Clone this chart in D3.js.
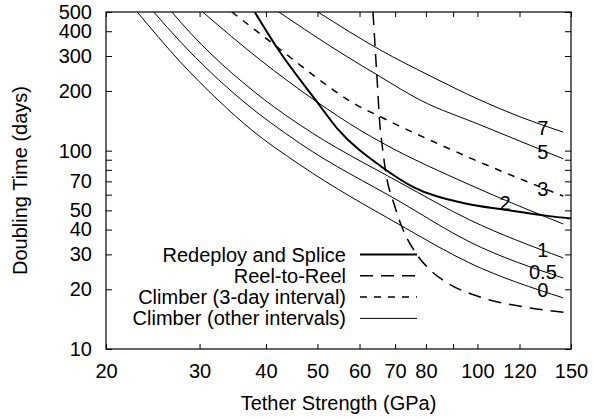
<!DOCTYPE html>
<html lang="en">
<head>
    <meta charset="UTF-8">
    <title>Doubling Time vs Tether Strength</title>
    <script src="https://cdn.jsdelivr.net/npm/d3@7.9.0/dist/d3.min.js"></script>
    <style>
        body {
            margin: 0;
            background: #fff;
            font-family: "Liberation Sans", Arial, Helvetica, sans-serif;
        }
        svg { display: block; }
        text { fill: #000; font-size: 20px; }
        .tick line { stroke: #000; stroke-width: 1px; }
    </style>
</head>
<body>
<svg id="chart" width="594" height="419"></svg>
<script>
    // --- data: [tether strength (GPa), doubling time (days)] ---
    const climber0  = [[22.9, 500], [27.6, 280], [32.5, 180], [37.6, 127], [46.3, 85], [71.5, 42.2], [96.8, 27.1], [145, 18.1]];
    const climber05 = [[24.6, 500], [27.6, 354], [36.0, 180], [46.3, 109], [71.5, 55.3], [96.8, 34.6], [145, 22.8]];
    const climber1  = [[26.6, 500], [27.6, 446], [39.8, 180], [46.3, 135], [71.5, 69], [96.8, 44.7], [145, 28.8]];
    const climber2  = [[30.4, 500], [39.0, 287], [49.9, 176], [60.1, 127], [66.4, 109], [96.8, 67.2], [145, 42.7]];
    const climber3  = [[34.5, 500], [42.0, 333], [49.0, 241], [58.3, 174], [66.4, 146], [96.8, 92], [145, 59]];
    const climber5  = [[42.3, 500], [52.8, 337], [65.6, 236], [78.0, 180], [101.1, 135], [145, 91]];
    const climber7  = [[50.1, 500], [65.6, 322], [81.5, 238], [101.1, 180], [120.3, 148], [145, 124]];
    const redeploy  = [[38.1, 500], [42.0, 329], [49.9, 176], [54.4, 130], [66.4, 82], [75.6, 65.7], [94.0, 54.5], [113.7, 50.2], [135.4, 46.9], [150, 45.5]];
    const reel      = [[63.6, 500], [64.7, 236], [65.6, 130], [66.1, 109], [67.6, 71.2], [69.3, 56.4], [72.1, 41.2], [77.0, 29.8], [81.5, 25.0], [87.9, 21.5], [101.1, 18.3], [125.8, 16.1], [150, 15.2]];

    // interval labels placed next to the climber curves
    const curveLabels = [["7", 132.8, 130], ["5", 132.8, 98.6], ["3", 132.8, 64.1], ["2", 112.7, 54.5],
                         ["1", 132.8, 31.6], ["0.5", 132.8, 24.5], ["0", 132.8, 19.8]];

    const xTicks = [20, 30, 40, 50, 60, 70, 80, 90, 100, 120, 150];
    const xLabels = [20, 30, 40, 50, 60, 70, 80, 100, 120, 150];
    const yTicks = [10, 20, 30, 40, 50, 60, 70, 80, 90, 100, 200, 300, 400, 500];
    const yLabels = [10, 20, 30, 40, 50, 70, 100, 200, 300, 400, 500];

    const legendNames = ["Redeploy and Splice", "Reel-to-Reel", "Climber (3-day interval)", "Climber (other intervals)"];

    // --- layout ---
    const m = {left: 106, right: 571, top: 12, bottom: 349};
    const svg = d3.select("#chart");

    const x = d3.scaleLog().domain([20, 150]).range([m.left, m.right]);
    const y = d3.scaleLog().domain([10, 500]).range([m.bottom, m.top]);

    const styles = {
        thin:   {w: 1, dash: null},
        thick:  {w: 2, dash: null},
        reel:   {w: 1.5, dash: "13,8"},
        dashed: {w: 1.5, dash: "7,7"}
    };

    svg.append("clipPath").attr("id", "plot-clip")
        .append("rect")
        .attr("x", m.left).attr("y", m.top)
        .attr("width", m.right - m.left).attr("height", m.bottom - m.top);

    // --- axes (ticks point inward on all four sides) ---
    const fmtX = d => xLabels.includes(d) ? d : "";
    const fmtY = d => yLabels.includes(d) ? d : "";

    svg.append("g")
        .attr("transform", `translate(0,${m.bottom})`)
        .call(d3.axisBottom(x).tickValues(xTicks).tickFormat(fmtX).tickSizeInner(-5).tickSizeOuter(0).tickPadding(15))
        .call(g => g.select(".domain").remove())
        .call(g => g.selectAll("text").style("font-size", "20px").style("font-family", "inherit"));

    svg.append("g")
        .attr("transform", `translate(0,${m.top})`)
        .call(d3.axisTop(x).tickValues(xTicks).tickFormat("").tickSizeInner(-5).tickSizeOuter(0))
        .call(g => g.select(".domain").remove());

    svg.append("g")
        .attr("transform", `translate(${m.left},0)`)
        .call(d3.axisLeft(y).tickValues(yTicks).tickFormat(fmtY).tickSizeInner(-6).tickSizeOuter(0).tickPadding(14))
        .call(g => g.select(".domain").remove())
        .call(g => g.selectAll("text").style("font-size", "20px").style("font-family", "inherit"));

    svg.append("g")
        .attr("transform", `translate(${m.right},0)`)
        .call(d3.axisRight(y).tickValues(yTicks).tickFormat("").tickSizeInner(-6).tickSizeOuter(0))
        .call(g => g.select(".domain").remove());

    // --- curves ---
    const line = d3.line()
        .x(d => x(d[0]))
        .y(d => y(d[1]))
        .curve(d3.curveMonotoneX);

    const series = [
        [climber0, "thin"], [climber05, "thin"], [climber1, "thin"], [climber2, "thin"],
        [climber3, "dashed"], [climber5, "thin"], [climber7, "thin"],
        [redeploy, "thick"], [reel, "reel"]
    ];

    const plot = svg.append("g").attr("clip-path", "url(#plot-clip)");
    series.forEach(([data, kind]) => {
        plot.append("path")
            .attr("d", line(data))
            .attr("fill", "none")
            .attr("stroke", "#000")
            .attr("stroke-width", styles[kind].w)
            .attr("stroke-dasharray", styles[kind].dash);
    });

    svg.selectAll(".curve-label")
        .data(curveLabels)
        .enter().append("text")
        .attr("class", "curve-label")
        .attr("x", d => x(d[1]))
        .attr("y", d => y(d[2]))
        .attr("dy", "0.35em")
        .attr("text-anchor", "middle")
        .text(d => d[0]);

    // frame
    svg.append("rect")
        .attr("x", m.left).attr("y", m.top)
        .attr("width", m.right - m.left).attr("height", m.bottom - m.top)
        .attr("fill", "none").attr("stroke", "#000").attr("stroke-width", 1.2);

    // --- legend ---
    const legendKinds = ["thick", "reel", "dashed", "thin"];
    const legend = svg.append("g");
    legendNames.forEach((name, i) => {
        const ly = 254.5 + i * 21.3;
        legend.append("text")
            .attr("x", 346).attr("y", ly)
            .attr("dy", "0.35em")
            .attr("text-anchor", "end")
            .text(name);
        legend.append("line")
            .attr("x1", 360).attr("x2", 417)
            .attr("y1", ly).attr("y2", ly)
            .attr("stroke", "#000")
            .attr("stroke-width", styles[legendKinds[i]].w)
            .attr("stroke-dasharray", styles[legendKinds[i]].dash);
    });

    // --- axis titles ---
    svg.append("text")
        .attr("x", (m.left + m.right) / 2).attr("y", 403)
        .attr("dy", "0.35em")
        .attr("text-anchor", "middle")
        .text("Tether Strength (GPa)");

    svg.append("text")
        .attr("transform", `translate(20,${(m.top + m.bottom) / 2}) rotate(-90)`)
        .attr("dy", "0.35em")
        .attr("text-anchor", "middle")
        .text("Doubling Time (days)");
</script>
</body>
</html>
